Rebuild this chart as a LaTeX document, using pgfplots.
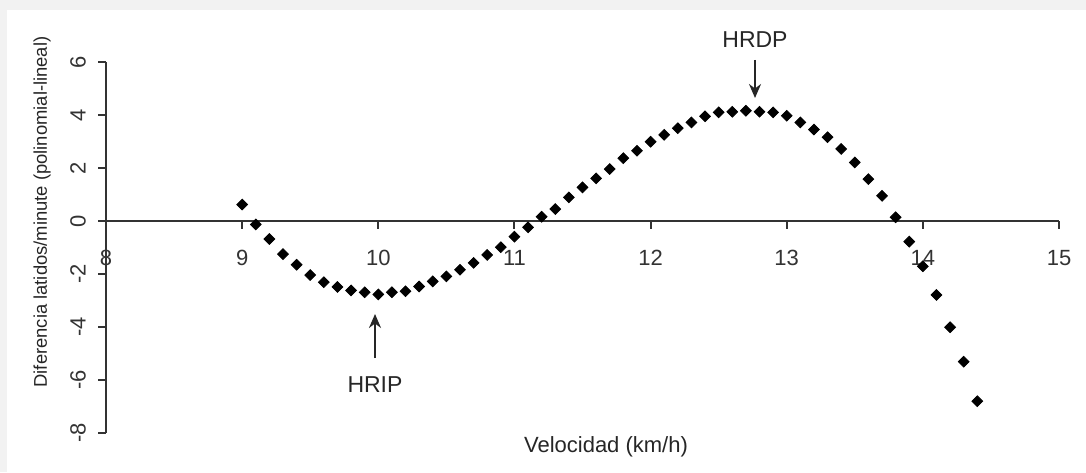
\documentclass[border=0pt]{standalone}
\usepackage{pgfplots}
\pgfplotsset{compat=1.18}
\usepackage{fontspec}
\setmainfont{Liberation Sans}
\usetikzlibrary{arrows.meta}
\begin{document}
\begin{tikzpicture}
\fill[black!5] (0,0) rectangle (543pt,236pt);
\fill[white] (3.5pt,0) rectangle (543pt,231pt);
\begin{axis}[
  at={(53pt,19.5pt)}, anchor=south west,
  scale only axis, width=476.5pt, height=185.5pt,
  xmin=8, xmax=15, ymin=-8, ymax=6,
  axis x line=middle, axis y line=left,
  hide obscured x ticks=false, hide obscured y ticks=false,
  axis line style={-, line width=1.1pt, black!80},
  xtick={8,...,15}, ytick={-8,-6,...,6},
  tick style={line width=1pt, black!80},
  major tick length=4pt, tick align=outside,
  /pgf/number format/assume math mode=true,
  tick label style={font=\fontsize{11}{13}\selectfont, text=black!80},
  xticklabel style={anchor=north, yshift=-7pt},
  yticklabel style={xshift=-10pt, rotate=90, anchor=center},
  clip=false,
]
\addplot[only marks, mark=square*, mark size=1.9pt, mark options={rotate=45, fill=black, draw=black}] coordinates {
(9.0,0.62) (9.1,-0.13) (9.2,-0.68) (9.3,-1.25) (9.4,-1.65) (9.5,-2.04) (9.6,-2.31) (9.7,-2.49) (9.8,-2.62) (9.9,-2.69)
(10.0,-2.77) (10.1,-2.69) (10.2,-2.65) (10.3,-2.47) (10.4,-2.28) (10.5,-2.09) (10.6,-1.84) (10.7,-1.58) (10.8,-1.28) (10.9,-0.99)
(11.0,-0.59) (11.1,-0.24) (11.2,0.16) (11.3,0.45) (11.4,0.89) (11.5,1.27) (11.6,1.61) (11.7,1.96) (11.8,2.37) (11.9,2.65)
(12.0,2.99) (12.1,3.25) (12.2,3.50) (12.3,3.72) (12.4,3.95) (12.5,4.10) (12.6,4.12) (12.7,4.16) (12.8,4.12) (12.9,4.10)
(13.0,3.97) (13.1,3.72) (13.2,3.45) (13.3,3.16) (13.4,2.72) (13.5,2.21) (13.6,1.58) (13.7,0.95) (13.8,0.14) (13.9,-0.78)
(14.0,-1.71) (14.1,-2.79) (14.2,-4.01) (14.3,-5.31) (14.4,-6.80)
};
\end{axis}
\node[rotate=90, font=\fontsize{9.2}{11}\selectfont, text=black!85] at (21pt,130pt) {Diferencia latidos/minute (polinomial-lineal)};
\node[anchor=base, font=\fontsize{11}{13}\selectfont, text=black!85] at (303pt,10pt) {Velocidad (km/h)};
\node[anchor=base, font=\fontsize{11.5}{13}\selectfont, text=black!85] at (187.5pt,40pt) {HRIP};
\node[anchor=base, font=\fontsize{11.5}{13}\selectfont, text=black!85] at (377.5pt,212pt) {HRDP};
\draw[line width=1pt, black!85, -{Stealth[length=7pt, width=6pt]}] (187.5pt,57pt) -- (187.5pt,79pt);
\draw[line width=1pt, black!85, -{Stealth[length=7pt, width=6pt]}] (377.5pt,206pt) -- (377.5pt,187pt);
\pgfresetboundingbox
\useasboundingbox (0,0) rectangle (543pt,236pt);
\end{tikzpicture}
\end{document}
